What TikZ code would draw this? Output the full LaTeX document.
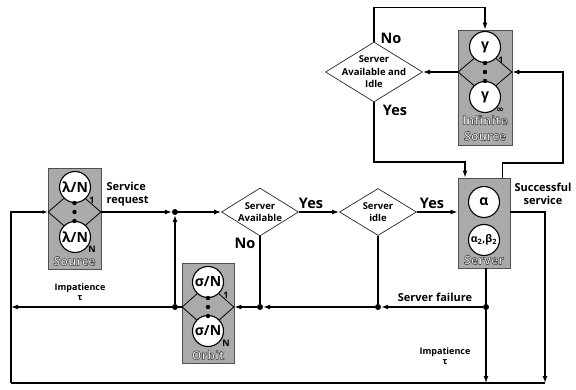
\documentclass[tikz,border=0pt]{standalone}
\usepackage{fontspec}
\setmainfont{Open Sans}
\newfontfamily\symfont{DejaVu Sans}
\usetikzlibrary{arrows.meta,shapes.geometric}
\definecolor{boxgray}{RGB}{170,170,170}
\definecolor{rimgray}{RGB}{80,80,80}
% outlined lettering for the station captions
\newcommand\hollowtext[1]{\special{pdf:literal direct 2 Tr 0.6 w 0.3 0.3 0.3 RG}#1\special{pdf:literal direct 0 Tr}}
\tikzset{
  >={Latex[length=7pt,width=5pt]},
  station/.style={draw=rimgray,fill=boxgray,line width=0.9pt,minimum width=53,inner sep=0pt},
  mixer/.style={diamond,draw=black,line width=0.8pt,inner sep=0pt,minimum width=53,minimum height=46},
  rate/.style={circle,draw,fill=white,line width=1.1pt,inner sep=0pt,minimum size=31,font=\bfseries\fontsize{14}{14}\selectfont},
  decision/.style={diamond,draw=black!85,line width=0.7pt,inner sep=0pt},
  dtext/.style={align=center,font=\bfseries\fontsize{9.5}{12.5}\selectfont},
  jn/.style={circle,fill=black,inner sep=0pt,minimum size=6pt},
  tag/.style={font=\bfseries\fontsize{11}{13.5}\selectfont},
  yn/.style={font=\bfseries\fontsize{14.5}{14.5}\selectfont},
  small/.style={align=center,font=\bfseries\fontsize{9}{9.5}\selectfont},
  sub/.style={inner sep=0pt,font=\bfseries\fontsize{9}{9}\selectfont},
  hollow/.style={inner sep=0pt,text=white!88!gray,font=\bfseries\fontsize{12.5}{13}\selectfont},
  flow/.style={line width=1.3pt}
}

\begin{document}
\begin{tikzpicture}[x=1pt,y=-1pt]
  \useasboundingbox (0,0) rectangle (576,390);

  % source
  \node[station,minimum height=101] (src) at (74.5,218.5) {};
  \node[mixer] (srcmix) at (74.5,212) {};
  \node[rate] (src1) at (75,187) {λ/N};
  \node[rate] (srcN) at (75,237) {λ/N};
  \node[sub] (src1n) at (92,200) {1};
  \node[sub] (srcNn) at (92,249) {N};
  \node[hollow] (srccap) at (74.5,261) {\hollowtext{Source}};

  % orbit
  \node[station,minimum width=52,minimum height=100] (orb) at (208,313) {};
  \node[mixer,minimum width=52] (orbmix) at (208,307) {};
  \node[rate] (orb1) at (208,282) {σ/N};
  \node[rate] (orbN) at (208,331) {σ/N};
  \node[sub] (orb1n) at (226,295) {1};
  \node[sub] (orbNn) at (226,343) {N};
  \node[hollow] (orbcap) at (208,355) {\hollowtext{Orbit}};

  % server
  \node[station,minimum width=52,minimum height=90] (server) at (484,223) {};
  \node[rate] (alpha) at (484,202) {α};
  \node[rate,font=\bfseries\fontsize{10.5}{10.5}\selectfont] (alphabeta) at (484,240) {α\textsubscript{2},β\textsubscript{2}};
  \node[hollow] (servercap) at (484,260) {\hollowtext{Server}};

  % infinite source
  \node[station,minimum width=54,minimum height=115] (inf) at (485,87.5) {};
  \node[mixer,minimum width=54] (infmix) at (485,72) {};
  \node[rate] (inf1) at (485,47) {γ};
  \node[rate] (infN) at (485,97) {γ};
  \node[sub] (inf1n) at (501,60) {1};
  \node[sub] (infNn) at (500,110) {\symfont ∞};
  \node[hollow] (infcap) at (485,120) {\hollowtext{Infinite}};
  \node[hollow] (infcap2) at (485,136) {\hollowtext{Source}};

  \foreach \m in {srcmix,orbmix,infmix}
    \foreach \d in {-9,0,9}
      \fill (\m) ++(0,\d) circle (2.2);

  % decisions
  \node[decision,minimum width=77,minimum height=48] (avail) at (260,212) {};
  \node[dtext] (availtxt) at (avail) {Server\\Available};
  \node[decision,minimum width=77,minimum height=47] (idle) at (378,212) {};
  \node[dtext] (idletxt) at (idle) {Server\\idle};
  \node[decision,minimum width=97,minimum height=60] (check) at (374,72) {};
  \node[dtext] (checktxt) at (check) {Server\\Available and\\Idle};

  % junctions and corners
  \node[jn] (j1) at (175,212) {};
  \node[jn] (j2) at (175,307) {};
  \node[jn] (j3) at (260,307) {};
  \node[jn] (j4) at (378,307) {};
  \node[jn] (j5) at (486,307) {};
  \coordinate (ret) at (11,212);
  \coordinate (sink) at (11,383);
  \coordinate (done) at (545,383);
  \coordinate (leave) at (486,383);
  \coordinate (feed) at (465,162);
  \coordinate (loop) at (563,163);

  \begin{scope}[flow]
    \draw[->] (srcmix) -- (j1);
    \draw[->] (j1) -- (avail);
    \draw[->] (avail) -- (idle);
    \draw[->] (idle) -- (idle -| server.west);
    \draw (avail) -- (j3);
    \draw (idle) -- (j4);
    \draw[->] (server.south -| j5) -- (leave);
    \draw[->] (j5) -- (j4);
    \draw[->] (j4) -- (j3);
    \draw[->] (j3) -- (orbmix);
    \draw (orbmix) -- (j2);
    \draw[->] (j2) -- (j2 -| ret);
    \draw[->] (j2) -- (j1);
    \draw[->] (idle -| server.east) -| (done);
    \draw (done) -- (sink);
    \draw[-{Latex[length=5pt,width=4pt]}] (sink) -- (ret) -- (srcmix);
    \draw[->] (check.north) -- ++(0,-34) -| (inf.north);
    \draw[->] (infmix) -- (check);
    \draw[->] (check.south) |- (feed) -- (feed |- server.north);
    \draw[->] ([xshift=-8pt]server.north east) |- (loop) |- (infmix.east);
  \end{scope}

  % labels
  \node[tag,align=left,anchor=west] (req) at (103,194) {Service\\request};
  \node[yn] (yes1) at (311,203) {Yes};
  \node[yn] (yes2) at (432,203) {Yes};
  \node[yn] (no1) at (245,243) {No};
  \node[yn] (no2) at (391,38) {No};
  \node[yn] (yes3) at (395,110) {Yes};
  \node[tag,align=center] (ok) at (543,194) {Successful\\service};
  \node[tag] (fail) at (435,297) {Server failure};
  \node[small] (imp1) at (80,292) {Impatience\\τ};
  \node[small] (imp2) at (445,356) {Impatience\\τ};
\end{tikzpicture}
\end{document}
